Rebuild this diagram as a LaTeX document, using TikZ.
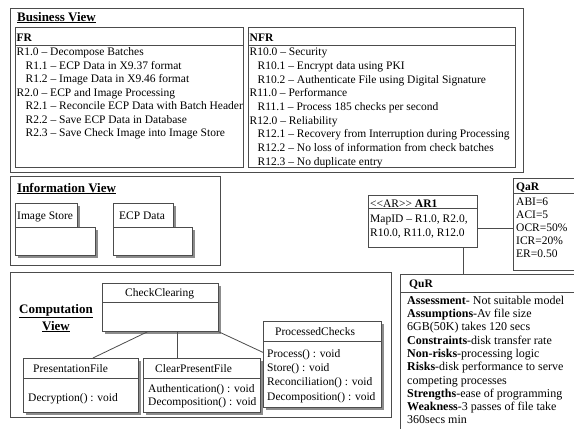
\documentclass[tikz,border=0pt]{standalone}
\usepackage{fontspec}
\setmainfont{Liberation Serif}
\usetikzlibrary{shadows,calc}
\tikzset{
  box/.style={draw=black!70, line width=0.8pt, fill=white, inner sep=0pt, anchor=north west},
  cls/.style={box, drop shadow={shadow xshift=2.5pt, shadow yshift=-2.5pt, fill=black!45, opacity=1}},
  txt/.style={inner sep=0pt, anchor=base west, font=\fontsize{11.5}{13.5}\selectfont},
  lst/.style={inner sep=0pt, anchor=north west, align=left, font=\fontsize{11.5}{#1}\selectfont},
  ttl/.style={inner sep=0pt, anchor=base west, font=\fontsize{13}{17}\selectfont\bfseries},
  wire/.style={draw=black!70, line width=0.8pt}
}
\begin{document}
\begin{tikzpicture}[x=1pt,y=-1pt]
\useasboundingbox (0,0) rectangle (574,429);
\clip (0,0) rectangle (574,429);
\fill[white] (0,0) rectangle (574,429);
% business view
\node[box, minimum width=513pt, minimum height=164pt] (bv) at (10,8) {};
\node[ttl] (bvt) at (17,21) {\underline{Business View}};
\node[box, minimum width=228pt, minimum height=140pt] (fr) at (15,27) {};
\draw[wire] ([yshift=-18pt]fr.north west) -- ([yshift=-18pt]fr.north east);
\node[txt] (frt) at (16.5,41) {\textbf{FR}};
\node[lst=13.5] (frl) at (16.5,46.05) {\strut R1.0 – Decompose Batches\\
\hspace*{9pt}R1.1 – ECP Data in X9.37 format\\
\hspace*{9pt}R1.2 – Image Data in X9.46 format\\
R2.0 – ECP and Image Processing\\
\hspace*{9pt}R2.1 – Reconcile ECP Data with Batch Header\\
\hspace*{9pt}R2.2 – Save ECP Data in Database\\
\hspace*{9pt}R2.3 – Save Check Image into Image Store};
\node[box, minimum width=267pt, minimum height=140pt] (nfr) at (248,27) {};
\draw[wire] ([yshift=-18pt]nfr.north west) -- ([yshift=-18pt]nfr.north east);
\node[txt] (nfrt) at (249.5,41) {\textbf{NFR}};
\node[lst=13.7] (nfrl) at (249.5,45.9) {\strut R10.0 – Security\\
\hspace*{8pt}R10.1 – Encrypt data using PKI\\
\hspace*{8pt}R10.2 – Authenticate File using Digital Signature\\
R11.0 – Performance\\
\hspace*{8pt}R11.1 – Process 185 checks per second\\
R12.0 – Reliability\\
\hspace*{8pt}R12.1 – Recovery from Interruption during Processing\\
\hspace*{8pt}R12.2 – No loss of information from check batches\\
\hspace*{8pt}R12.3 – No duplicate entry};
% information view
\node[box, minimum width=210pt, minimum height=89pt] (iv) at (10,176) {};
\node[ttl] (ivt) at (17,192) {\underline{Information View}};
\node[cls, minimum width=62pt, minimum height=24pt] (istab) at (15,203) {};
\node[cls, minimum width=80pt, minimum height=28pt] (is) at (15,227) {};
\node[txt] (ist) at (17,219) {Image Store};
\node[cls, minimum width=60pt, minimum height=24pt] (ecptab) at (113,203) {};
\node[cls, minimum width=79pt, minimum height=28pt] (ecp) at (113,227) {};
\node[txt] (ecpt) at (119,219) {ECP Data};
% computation view
\node[box, minimum width=381pt, minimum height=145pt] (cv) at (10,272) {};
\node[ttl, anchor=base] (cvt) at (56,313) {\underline{Computation}};
\node[ttl, anchor=base] (cvt2) at (56,330) {\underline{View}};
\node[cls, minimum width=116pt, minimum height=48pt] (cc) at (102,283) {};
\draw[wire] ([yshift=-19pt]cc.north west) -- ([yshift=-19pt]cc.north east);
\node[txt] (cct) at (125,296) {CheckClearing};
\node[cls, minimum width=115pt, minimum height=54pt] (pf) at (23,358) {};
\draw[wire] ([yshift=-20pt]pf.north west) -- ([yshift=-20pt]pf.north east);
\node[txt] (pft) at (33,372) {PresentationFile};
\node[txt] (pfo) at (28,401) {Decryption() : void};
\node[cls, minimum width=117pt, minimum height=54pt] (cpf) at (143,358) {};
\draw[wire] ([yshift=-20pt]cpf.north west) -- ([yshift=-20pt]cpf.north east);
\node[txt] (cpft) at (155,372) {ClearPresentFile};
\node[lst=13] (cpfo) at (148,382.9) {\strut Authentication() : void\\
Decomposition() : void};
\node[cls, minimum width=118pt, minimum height=86pt] (pc) at (263,321) {};
\draw[wire] ([yshift=-20pt]pc.north west) -- ([yshift=-20pt]pc.north east);
\node[txt] (pct) at (275,335) {ProcessedChecks};
\node[lst=14.4] (pco) at (267,346.9) {\strut Process() : void\\
Store() : void\\
Reconciliation() : void\\
Decomposition() : void};
\draw[wire] ($(cc.south)+(-13,0)$) -- ($(pf.north)+(12,0)$);
\draw[wire] ($(cc.south)+(17,0)$) coordinate (ccd) -- (ccd |- cpf.north);
\draw[wire] (cc.south east) -- ($(pc.west)+(0,-12)$);
% architecture
\node[box, minimum width=109pt, minimum height=52pt] (ar) at (368,195) {};
\draw[wire] ([yshift=-13pt]ar.north west) -- ([yshift=-13pt]ar.north east);
\node[txt] (art) at (370,207) {<\kern0pt<AR>\kern0pt> \textbf{AR1}};
\node[lst=14] (arl) at (370,212.2) {\strut MapID – R1.0, R2.0,\\
R10.0, R11.0, R12.0};
\node[box, minimum width=80pt, minimum height=92pt] (qa) at (513,178) {};
\draw[wire] ([yshift=-15pt]qa.north west) -- ([yshift=-15pt]qa.north east);
\node[txt] (qat) at (516,190) {\textbf{QaR}};
\node[lst=13] (qal) at (516,195.9) {\strut ABI=6\\
ACI=5\\
OCR=50\%\\
ICR=20\%\\
ER=0.50};
\node[box, minimum width=200pt, minimum height=170pt] (qu) at (400,274) {};
\draw[wire] ([yshift=-18pt]qu.north west) -- ([yshift=-18pt]qu.north east);
\node[txt] (qut) at (409,287) {\textbf{QuR}};
\node[lst=13.3, font=\fontsize{12}{13.3}\selectfont] (qul) at (407,294.7) {\strut\textbf{Assessment}- Not suitable model\\
\textbf{Assumptions}-Av file size\\
6GB(50K) takes 120 secs\\
\textbf{Constraints}-disk transfer rate\\
\textbf{Non-risks}-processing logic\\
\textbf{Risks}-disk performance to serve\\
competing processes\\
\textbf{Strengths}-ease of programming\\
\textbf{Weakness}-3 passes of file take\\
360secs min};
\draw[wire] ($(ar.east)+(0,7)$) coordinate (arq) -- (arq -| qa.west);
\draw[wire] ($(ar.south)+(40.5,0)$) coordinate (ard) -- (ard |- qu.north);
\end{tikzpicture}
\end{document}
